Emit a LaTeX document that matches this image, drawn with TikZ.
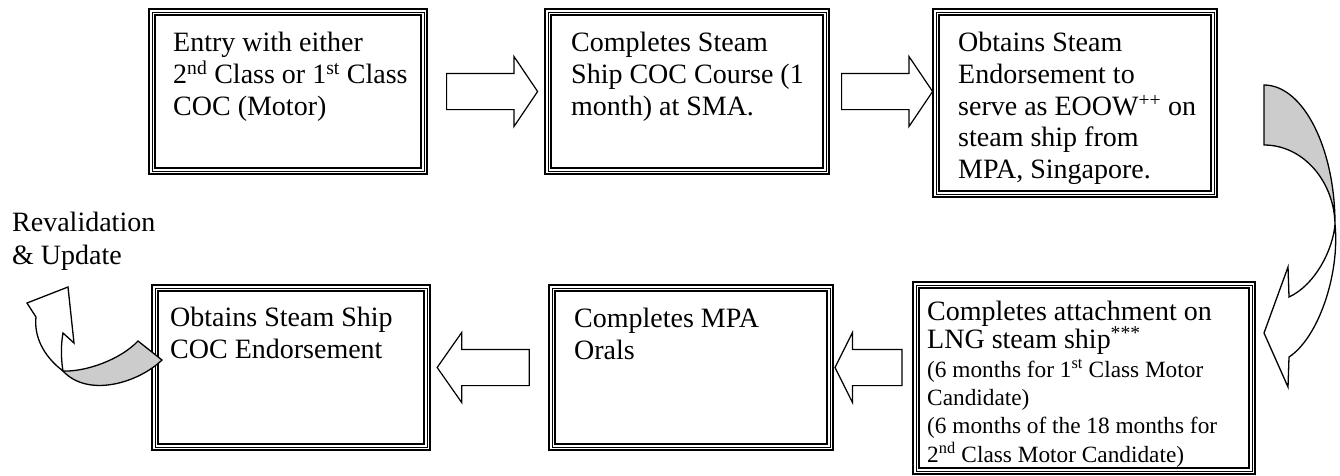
\documentclass[tikz,border=0pt]{standalone}
\usepackage{fontspec}
\setmainfont{Liberation Serif}
\usetikzlibrary{positioning,shapes.arrows,calc}
\newcommand{\notefont}{\fontsize{23.3}{28}\selectfont}

\begin{document}
\begin{tikzpicture}[x=1pt,y=-1pt,
  stepbox/.style={draw, line width=2pt, inner sep=0pt, minimum height=165pt,
    path picture={%
      \draw[line width=0.9pt] ([shift={(3pt,-3pt)}]path picture bounding box.north west) rectangle ([shift={(-3pt,3pt)}]path picture bounding box.south east);%
      \draw[line width=1.3pt] ([shift={(6pt,-6pt)}]path picture bounding box.north west) rectangle ([shift={(-6pt,6pt)}]path picture bounding box.south east);}},
  boxtext/.style={inner sep=0pt, anchor=north west, align=left, font=\fontsize{28}{31.7}\selectfont},
  blockarrow/.style={single arrow, draw, line width=1.2pt, inner sep=0pt, text height=35pt, text depth=0pt,
    single arrow head extend=17pt, single arrow tip angle=112, minimum height=91pt},
  curvedarrow/.style={draw, line width=1.3pt, line join=miter},
]
\useasboundingbox (0,0) rectangle (1340,475);%
% top row
\node[stepbox, minimum width=278pt] (b1) at (288,91.5) {};%
\node[stepbox, minimum width=284pt] (b2) at (687,91.5) {};%
\node[stepbox, minimum width=284pt, minimum height=188pt] (b3) at (1075,103) {};%
\node[boxtext, below right=24pt and 25pt of b1.north west] (t1) {Entry with either\\2\textsuperscript{nd} Class or 1\textsuperscript{st} Class\\COC (Motor)};%
\node[boxtext, below right=24pt and 27pt of b2.north west] (t2) {Completes Steam\\Ship COC Course (1\\month) at SMA.};%
\node[boxtext, below right=24pt and 26pt of b3.north west] (t3) {Obtains Steam\\Endorsement to\\serve as EOOW\textsuperscript{++} on\\steam ship from\\MPA, Singapore.};%
% bottom row
\node[stepbox, minimum width=342pt, minimum height=192pt] (b4) at (1084,378) {};%
\node[stepbox, minimum width=284pt] (b5) at (691,367.5) {};%
\node[stepbox, minimum width=278pt] (b6) at (291,367.5) {};%
\node[boxtext, font=\fontsize{28}{28.3}\selectfont, below right=20pt and 15pt of b4.north west] (t4) {Completes attachment on\\LNG steam ship\textsuperscript{***}\\{\notefont (6 months for 1\textsuperscript{st} Class Motor}\\{\notefont Candidate)}\\{\notefont (6 months of the 18 months for}\\{\notefont 2\textsuperscript{nd} Class Motor Candidate)}};%
\node[boxtext, below right=24pt and 26pt of b5.north west] (t5) {Completes MPA\\Orals};%
\node[boxtext, below right=23pt and 19pt of b6.north west] (t6) {Obtains Steam Ship\\COC Endorsement};%
\node[boxtext, font=\fontsize{28}{33}\selectfont] (reval) at (12,212) {Revalidation\\\& Update};%
% block arrows between the steps
\node[blockarrow] (a1) at ($(b1.east)!0.5!(b2.west)$) {};%
\node[blockarrow] (a2) at ($(b2.east)!0.5!(b3.west |- b2.east)$) {};%
\node[blockarrow, shape border rotate=180, minimum height=67pt, single arrow tip angle=127] (a3) at ($(b5.east)!0.5!(b4.west |- b5.east)$) {};%
\node[blockarrow, shape border rotate=180, minimum height=92pt, single arrow tip angle=110] (a4) at ($(b6.east)!0.5!(b5.west)$) {};%
% curved arrow from b3 down to b4
\draw[curvedarrow, fill=black!20] (1264,85) .. controls (1303,85) and (1335,148) .. (1335,224) .. controls (1334,181) and (1303,145) .. (1264,145) -- cycle;%
\draw[curvedarrow, fill=white] (1335,224) .. controls (1340,275) and (1318,338) .. (1289,357) -- (1288,387) -- (1264,333) -- (1288,267) -- (1289,297) .. controls (1315,285) and (1333,250) .. (1335,224);%
% curved arrow out of b6
\draw[curvedarrow, fill=black!20] (138,341) -- (162,360) .. controls (138,383) and (88,398) .. (63,371) .. controls (85,372) and (120,360) .. (138,341) -- cycle;%
\draw[curvedarrow, fill=white] (63,371) .. controls (42,355) and (34,335) .. (36,317) -- (27,303) -- (68,287) -- (74,343) -- (63,333) .. controls (60,350) and (62,365) .. (63,371) -- cycle;%
\end{tikzpicture}
\end{document}
